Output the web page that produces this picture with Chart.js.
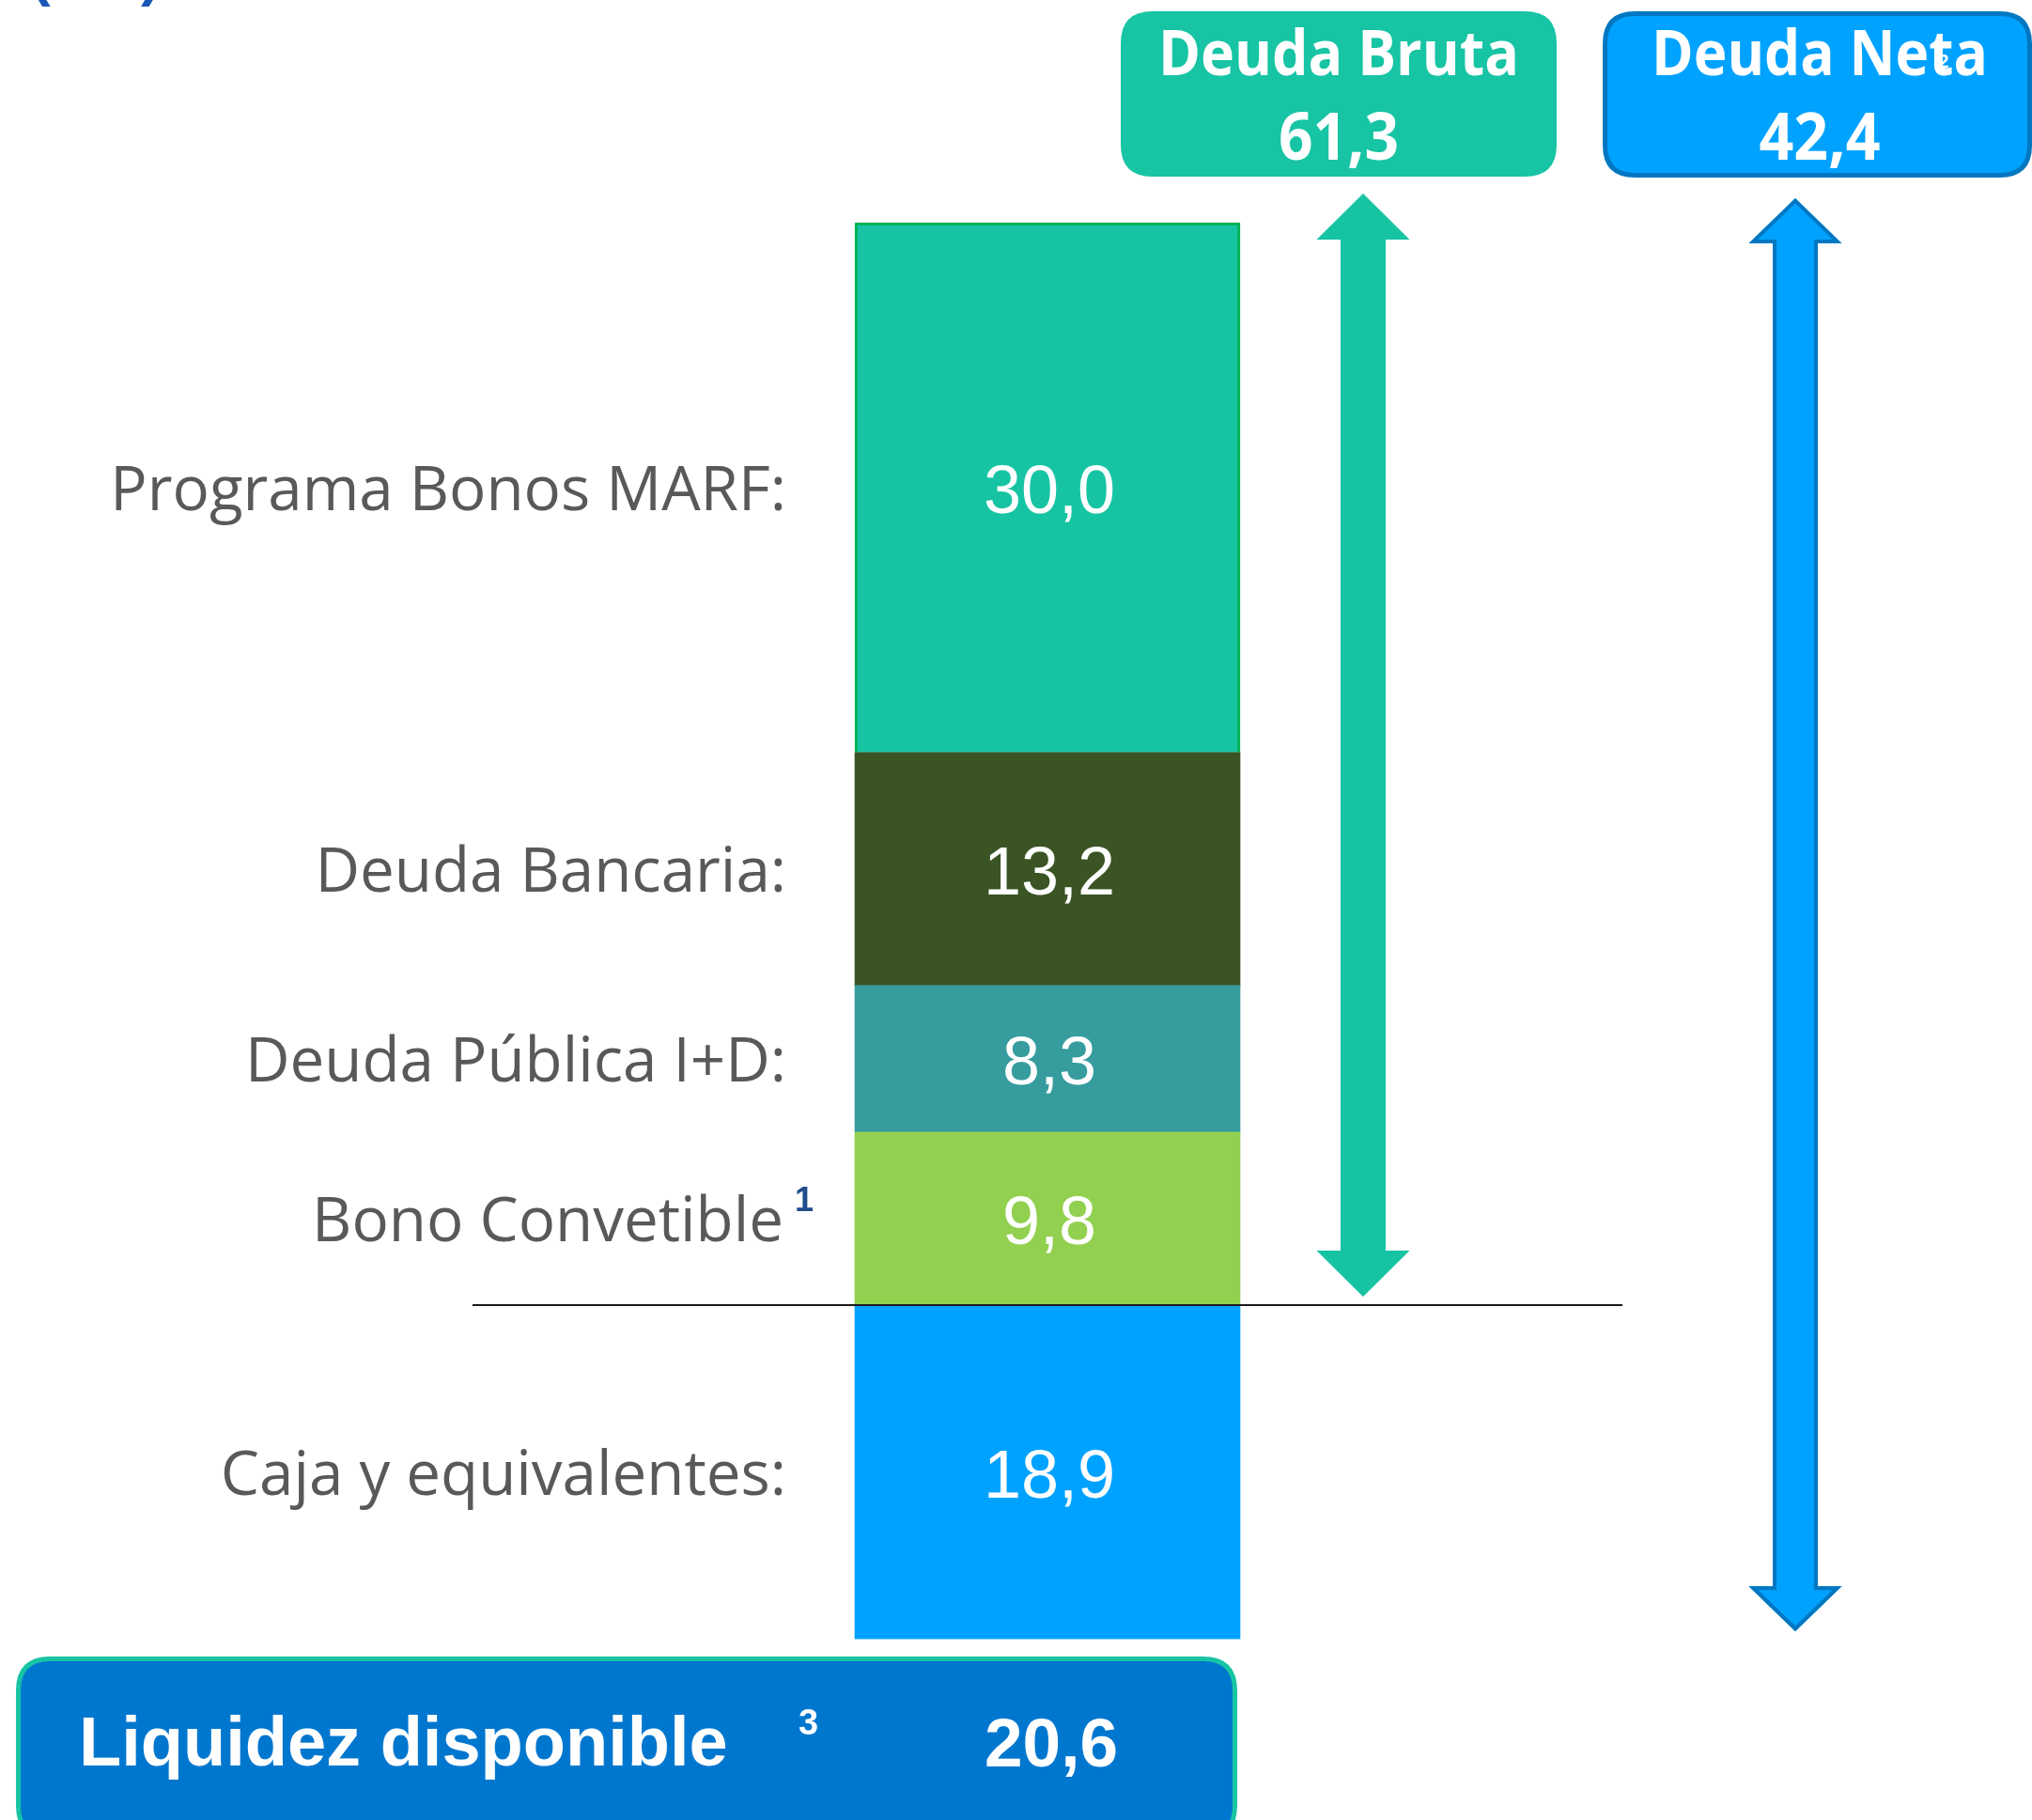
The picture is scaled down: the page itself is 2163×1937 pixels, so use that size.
<!DOCTYPE html>
<html>
<head>
<meta charset="utf-8">
<script src="https://cdn.jsdelivr.net/npm/chart.js@4.4.1/dist/chart.umd.min.js"></script>
<style>
  html, body { margin: 0; padding: 0; background: #ffffff; }
  #wrap { width: 2163px; height: 1937px; position: relative; overflow: hidden; }
</style>
</head>
<body>
<div id="wrap"><canvas id="c" width="2163" height="1937"></canvas></div>
<script>
// ---- Data ----
const categories = ['Deuda'];
const segmentLabels = ['Bono Convetible', 'Deuda Pública I+D:', 'Deuda Bancaria:', 'Programa Bonos MARF:', 'Caja y equivalentes:'];
const segmentValues = [9.8, 8.3, 13.2, 30.0, -18.9];
const segmentFootnotes = ['1', '', '', '', ''];
const deudaBruta = 61.3;
const deudaNeta = 42.4;
const liquidezDisponible = 20.6;
const unitLabel = '(M€)';

// ---- Styles ----
const segmentColors = ['#92D050', '#369C9E', '#3A5424', '#16C4A3', '#00A2FF'];
const fmt = v => Math.abs(v).toFixed(1).replace('.', ',');

function roundRect(ctx, x, y, w, h, r) {
  ctx.beginPath();
  ctx.moveTo(x + r, y);
  ctx.lineTo(x + w - r, y);
  ctx.quadraticCurveTo(x + w, y, x + w, y + r);
  ctx.lineTo(x + w, y + h - r);
  ctx.quadraticCurveTo(x + w, y + h, x + w - r, y + h);
  ctx.lineTo(x + r, y + h);
  ctx.quadraticCurveTo(x, y + h, x, y + h - r);
  ctx.lineTo(x, y + r);
  ctx.quadraticCurveTo(x, y, x + r, y);
  ctx.closePath();
}

function doubleArrow(ctx, cx, yTop, yBot, shaftW, headW, headH, fill, stroke, lw) {
  const s = shaftW / 2, h = headW / 2;
  ctx.beginPath();
  ctx.moveTo(cx, yTop);
  ctx.lineTo(cx + h, yTop + headH);
  ctx.lineTo(cx + s, yTop + headH);
  ctx.lineTo(cx + s, yBot - headH);
  ctx.lineTo(cx + h, yBot - headH);
  ctx.lineTo(cx, yBot);
  ctx.lineTo(cx - h, yBot - headH);
  ctx.lineTo(cx - s, yBot - headH);
  ctx.lineTo(cx - s, yTop + headH);
  ctx.lineTo(cx - h, yTop + headH);
  ctx.closePath();
  ctx.fillStyle = fill;
  ctx.fill();
  if (stroke) {
    ctx.save();
    ctx.clip();
    ctx.lineWidth = lw * 2;
    ctx.strokeStyle = stroke;
    ctx.lineJoin = 'miter';
    ctx.stroke();
    ctx.restore();
  }
}

const overlay = {
  id: 'overlay',
  afterDatasetsDraw(chart) {
    const ctx = chart.ctx;
    const ys = chart.scales.y;
    const zeroY = ys.getPixelForValue(0);
    ctx.save();

    // baseline separator
    ctx.strokeStyle = '#1a1a1a';
    ctx.lineWidth = 2;
    ctx.beginPath();
    ctx.moveTo(503, zeroY);
    ctx.lineTo(1727, zeroY);
    ctx.stroke();

    // segment values and left labels
    segmentValues.forEach((v, i) => {
      const el = chart.getDatasetMeta(i).data[0];
      const cy = (el.y + el.base) / 2;
      ctx.fillStyle = '#ffffff';
      ctx.font = '72px "Liberation Sans", Arial, sans-serif';
      ctx.textAlign = 'center';
      ctx.textBaseline = 'alphabetic';
      ctx.fillText(fmt(v), el.x + 2, cy + 27);

      ctx.fillStyle = '#595959';
      ctx.font = '65.5px "Open Sans", "Noto Sans", sans-serif';
      ctx.textAlign = 'right';
      const right = segmentFootnotes[i] ? 834 : 837;
      ctx.fillText(segmentLabels[i], right, cy + 24);
      if (segmentFootnotes[i]) {
        ctx.fillStyle = '#1F4E8C';
        ctx.font = 'bold 36px "Liberation Sans", Arial, sans-serif';
        ctx.textAlign = 'left';
        ctx.fillText(segmentFootnotes[i], 846, cy - 8);
      }
    });

    // arrows
    const brutaTop = ys.getPixelForValue(deudaBruta);
    const cajaBottom = ys.getPixelForValue(segmentValues[4]);
    doubleArrow(ctx, 1451, brutaTop - 31, zeroY - 9, 48, 99, 49, '#16C4A3', null, 0);
    doubleArrow(ctx, 1911, brutaTop - 26, cajaBottom - 8, 48, 99, 48, '#00A2FF', '#0077C0', 4);

    // Deuda Bruta box
    roundRect(ctx, 1193, 12, 464, 176, 34);
    ctx.fillStyle = '#17C4A4';
    ctx.fill();
    ctx.fillStyle = '#ffffff';
    ctx.textAlign = 'center';
    ctx.font = 'bold 66px "Open Sans", "Noto Sans", sans-serif';
    ctx.fillText('Deuda Bruta', 1425, 80, 384);
    ctx.font = 'bold 70px "Open Sans", "Noto Sans", sans-serif';
    ctx.fillText(fmt(deudaBruta), 1425, 170, 128);

    // Deuda Neta box
    roundRect(ctx, 1708.5, 14.5, 452, 172, 32);
    ctx.fillStyle = '#00A2FF';
    ctx.fill();
    ctx.lineWidth = 5;
    ctx.strokeStyle = '#0077C0';
    ctx.stroke();
    ctx.fillStyle = '#ffffff';
    ctx.font = 'bold 66px "Open Sans", "Noto Sans", sans-serif';
    ctx.fillText('Deuda Neta', 1937, 80, 358);
    ctx.font = 'bold 20px "Liberation Sans", Arial, sans-serif';
    ctx.fillText('2', 2069, 72);
    ctx.font = 'bold 70px "Open Sans", "Noto Sans", sans-serif';
    ctx.fillText(fmt(deudaNeta), 1937, 170, 129);

    // Liquidez disponible box
    roundRect(ctx, 19.5, 1765.5, 1295, 190, 34);
    ctx.fillStyle = '#0077CF';
    ctx.fill();
    ctx.lineWidth = 5;
    ctx.strokeStyle = '#17C4A4';
    ctx.stroke();
    ctx.fillStyle = '#ffffff';
    ctx.textAlign = 'left';
    ctx.font = 'bold 74px "Liberation Sans", Arial, sans-serif';
    ctx.fillText('Liquidez disponible', 84, 1879, 692);
    ctx.font = 'bold 38px "Liberation Sans", Arial, sans-serif';
    ctx.fillText('3', 850, 1846);
    ctx.textAlign = 'center';
    ctx.font = 'bold 73px "Liberation Sans", Arial, sans-serif';
    ctx.fillText(fmt(liquidezDisponible), 1119, 1880, 145);

    // unit label (cut off at top edge)
    ctx.textAlign = 'left';
    ctx.fillStyle = '#1A56B8';
    ctx.font = 'bold 62px "Liberation Sans", Arial, sans-serif';
    ctx.fillText('(', 33, -6);
    ctx.fillText(')', 150, -6);

    ctx.restore();
  }
};

const datasets = segmentValues.map((v, i) => ({
  label: segmentLabels[i],
  data: [v],
  backgroundColor: segmentColors[i],
  borderColor: i === 3 ? '#00B050' : segmentColors[i],
  borderWidth: i === 3 ? 3 : 0,
  borderSkipped: i === 3 ? 'start' : false,
  barThickness: 410,
  stack: 'deuda'
}));

new Chart(document.getElementById('c'), {
  type: 'bar',
  data: { labels: categories, datasets },
  options: {
    responsive: false,
    animation: false,
    devicePixelRatio: 1,
    layout: { padding: { left: 67, right: 0, top: 0, bottom: 0 } },
    plugins: { legend: { display: false }, tooltip: { enabled: false } },
    scales: {
      x: { stacked: true, display: false },
      y: { stacked: true, display: false, min: -29.16, max: 73.91 }
    }
  },
  plugins: [overlay]
});
</script>
</body>
</html>
